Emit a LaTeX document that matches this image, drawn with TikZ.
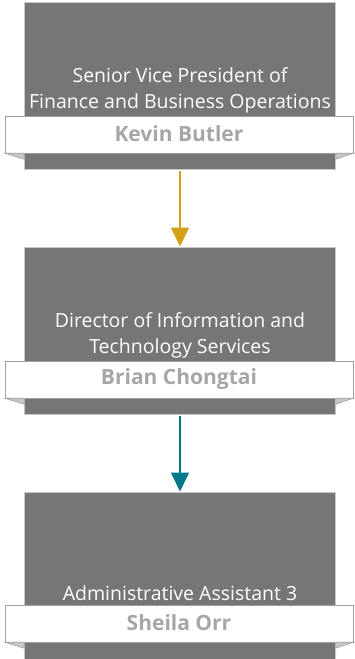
\documentclass[tikz,border=0pt]{standalone}
\usepackage{fontspec}
\setmainfont{Open Sans}
\usetikzlibrary{arrows.meta}
\definecolor{boxgray}{RGB}{118,118,118}
\definecolor{boxline}{RGB}{200,200,200}
\definecolor{bannerline}{RGB}{160,160,160}
\definecolor{flapgray}{RGB}{200,200,200}
\definecolor{namegray}{RGB}{166,166,166}
\definecolor{gold}{RGB}{212,160,23}
\definecolor{teal}{RGB}{0,120,140}
\tikzset{
  x=1pt, y=-1pt,
  rolebox/.style={draw=boxline, line width=0.6pt, fill=boxgray, minimum width=311pt, minimum height=167pt, inner sep=0pt, anchor=north},
  roletext/.style={text=white, font=\fontsize{19.5}{26}\selectfont, align=center, inner sep=0pt},
  banner/.style={draw=bannerline, line width=0.7pt, fill=white, minimum width=348pt, minimum height=37pt, inner sep=0pt, anchor=north},
  nametext/.style={text=namegray, font=\bfseries\fontsize{21}{24}\selectfont, inner sep=0pt},
  flap/.style={draw=bannerline, line width=0.6pt, fill=flapgray},
  conn/.style={line width=1.6pt, -{Triangle[width=18pt,length=19pt]}}
}
\begin{document}
\begin{tikzpicture}
\useasboundingbox (0,0) rectangle (354,659);
% box 1
\node[rolebox] (b1) at (180,2) {};
\node[roletext] (t1) at (180,90) {Senior Vice President of\\Finance and Business Operations};
\node[banner] (n1) at (179,115.5) {};
\node[nametext] (k1) at (179,134) {Kevin Butler};
\draw[flap] (n1.south west) -- (b1.west |- n1.south) -- ([yshift=-6pt]b1.west |- n1.south) -- cycle;
\draw[flap] (n1.south east) -- (b1.east |- n1.south) -- ([yshift=-6pt]b1.east |- n1.south) -- cycle;
% box 2
\node[rolebox] (b2) at (180,246.5) {};
\node[roletext] (t2) at (180,335.5) {Director of Information and\\Technology Services};
\node[banner] (n2) at (179,360.5) {};
\node[nametext] (k2) at (179,379) {Brian Chongtai};
\draw[flap] (n2.south west) -- (b2.west |- n2.south) -- ([yshift=-6pt]b2.west |- n2.south) -- cycle;
\draw[flap] (n2.south east) -- (b2.east |- n2.south) -- ([yshift=-6pt]b2.east |- n2.south) -- cycle;
% box 3
\node[rolebox] (b3) at (180,491.5) {};
\node[roletext] (t3) at (180,593) {Administrative Assistant 3};
\node[banner] (n3) at (179,604.5) {};
\node[nametext] (k3) at (179,623) {Sheila Orr};
\draw[flap] (n3.south west) -- (b3.west |- n3.south) -- ([yshift=-6pt]b3.west |- n3.south) -- cycle;
\draw[flap] (n3.south east) -- (b3.east |- n3.south) -- ([yshift=-6pt]b3.east |- n3.south) -- cycle;
% connectors
\draw[conn, draw=gold, fill=gold] ([yshift=-1.5pt]b1.south) -- (b2.north);
\draw[conn, draw=teal, fill=teal] ([yshift=-1.5pt]b2.south) -- (b3.north);
\end{tikzpicture}
\end{document}
